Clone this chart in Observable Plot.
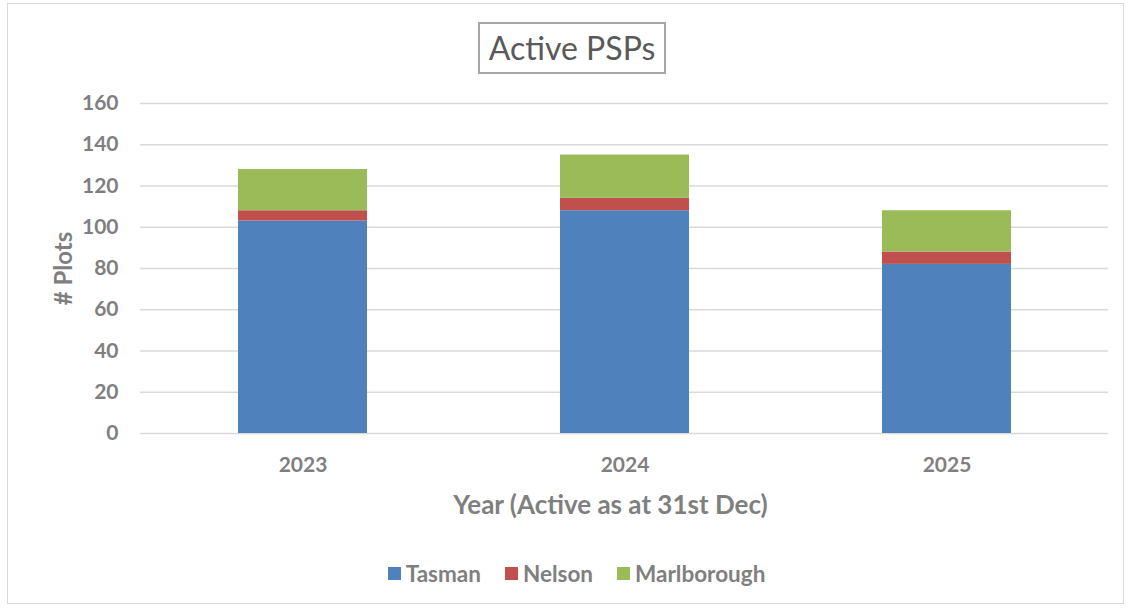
<!DOCTYPE html>
<html>
<head>
<meta charset="utf-8">
<script src="https://cdn.jsdelivr.net/npm/d3@7"></script>
<script src="https://cdn.jsdelivr.net/npm/@observablehq/plot@0.6"></script>
<style>
  html, body { margin: 0; padding: 0; background: #fff; }
  #wrap { position: relative; width: 1131px; height: 609px; overflow: hidden; font-family: Lato, "Open Sans", sans-serif; }
  #frame { position: absolute; left: 7px; top: 3px; width: 1117px; height: 601px; border: 1.5px solid #d9d9d9; box-sizing: border-box; }
  #title { position: absolute; left: 478px; top: 22px; width: 188px; height: 52px; border: 2px solid #a6a6a6; box-sizing: border-box; text-align: center; line-height: 48px; font-size: 32px; color: #595959; }
  #chart { position: absolute; left: 0; top: 0; }
  #legend { position: absolute; top: 560px; left: 11px; width: 1131px; display: flex; justify-content: center; gap: 24px; font-size: 22.5px; font-weight: bold; color: #7f7f7f; }
  .item { display: flex; align-items: center; gap: 5px; }
  .sw { width: 13px; height: 13px; display: inline-block; }
</style>
</head>
<body>
<div id="wrap">
  <div id="frame"></div>
  <div id="chart"></div>
  <div id="title">Active PSPs</div>
  <div id="legend"></div>
</div>
<script>
const years = ["2023", "2024", "2025"];
const series = ["Tasman", "Nelson", "Marlborough"];
const tasman = [103, 108, 82];
const nelson = [5, 6, 6];
const marlborough = [20, 21, 20];
const colors = ["#4F81BD", "#C0504D", "#9BBB59"];
const yTicks = [0, 20, 40, 60, 80, 100, 120, 140, 160];
const xTitle = "Year (Active as at 31st Dec)";
const yTitle = "# Plots";

const values = [tasman, nelson, marlborough];
const data = [];
series.forEach((s, si) => years.forEach((y, yi) => data.push({year: y, region: s, value: values[si][yi]})));

const plot = Plot.plot({
  width: 1131,
  height: 540,
  marginTop: 103,
  marginBottom: 107,
  marginLeft: 140,
  marginRight: 23,
  style: { fontFamily: "Lato, 'Open Sans', sans-serif", fontSize: "21px", fontWeight: "bold", color: "#7f7f7f", background: "transparent" },
  x: { domain: years, paddingInner: 0.6, paddingOuter: 0.3 },
  y: { domain: [0, 160] },
  color: { domain: series, range: colors },
  marks: [
    Plot.gridY(yTicks, { stroke: "#d9d9d9", strokeOpacity: 1, strokeWidth: 1.5 }),
    Plot.barY(data, { x: "year", y: "value", fill: "region", order: series }),
    Plot.axisY(yTicks, { tickSize: 0, tickPadding: 22, fill: "#7f7f7f", label: null }),
    Plot.axisY({ ticks: [], tickSize: 0, label: yTitle, labelAnchor: "center", labelArrow: "none", labelOffset: 86, fill: "#7f7f7f", fontSize: 24 }),
    Plot.axisX({ tickSize: 0, tickPadding: 24, fill: "#7f7f7f", label: null }),
    Plot.text([xTitle], { frameAnchor: "bottom", lineAnchor: "middle", dy: 72, dx: -14, fill: "#7f7f7f", fontSize: 26, fontWeight: "bold" })
  ]
});
document.getElementById("chart").appendChild(plot);

const leg = document.getElementById("legend");
series.forEach((s, i) => {
  const it = document.createElement("div");
  it.className = "item";
  it.innerHTML = `<span class="sw" style="background:${colors[i]}"></span><span>${s}</span>`;
  leg.appendChild(it);
});
</script>
</body>
</html>
